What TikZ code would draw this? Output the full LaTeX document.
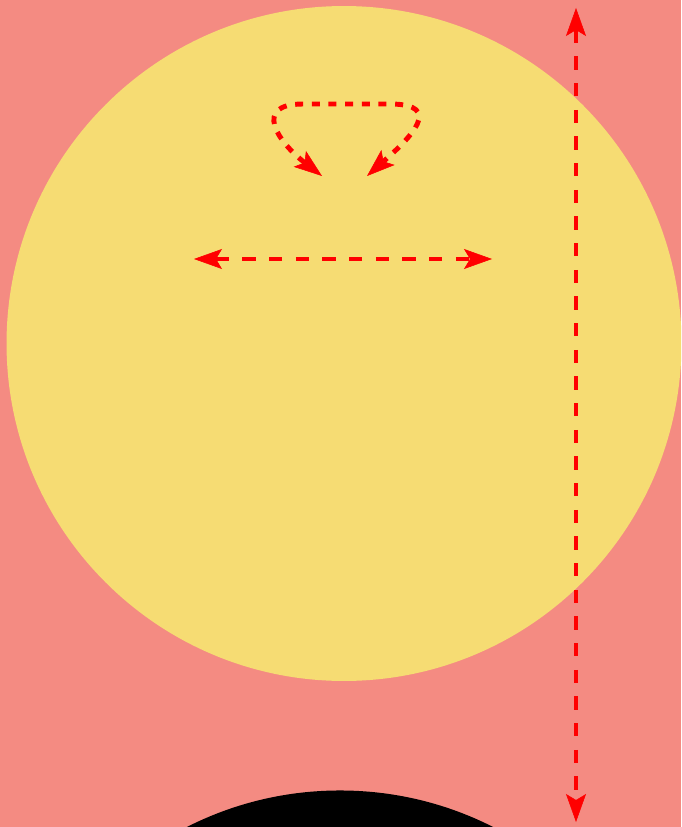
\documentclass[tikz,border=0pt]{standalone}
\usepackage{tikz}
\usetikzlibrary{arrows.meta}
\definecolor{bgsalmon}{RGB}{244,139,130}
\definecolor{sunyellow}{RGB}{246,220,115}
\tikzset{
  tipS/.tip     ={Stealth[length=21pt,width=15pt,inset=4.5pt,line width=0.4pt]},
  dashS/.style  ={red, line width=3.7pt, dash pattern=on 9.8pt off 10.2pt, {tipS}-{tipS}},
  loopS/.style  ={red, line width=3.7pt, dash pattern=on 6pt off 6.5pt, {tipS}-{tipS}},
  bg/.style     ={fill=bgsalmon},
  sun/.style    ={fill=sunyellow},
  shadow/.style ={fill=black},
}

\begin{document}
\begin{tikzpicture}[x=0.75pt,y=-0.75pt]
  \useasboundingbox (0,0) rectangle (681,827);
  \clip (0,0) rectangle (681,827);
  \fill[bg] (0,0) rectangle (681,827);
  \fill[sun] (344,343.5) circle[radius=253.1pt];
  \fill[shadow] (340,1129) circle[radius=253.9pt];
  \coordinate (vTop) at (576,8);   \coordinate (vBot) at (576,822);
  \coordinate (hL) at (194,259);   \coordinate (hR) at (492,259);
  \coordinate (loopL) at (322,176); \coordinate (loopR) at (367,176);
  \draw[dashS] (vTop) -- (vBot);
  \draw[dashS] (hL) -- (hR);
  \draw[loopS] (loopL) .. controls (278,142) and (252,104) .. (303,104) -- (390,104)
               .. controls (445,104) and (410,138) .. (loopR);
\end{tikzpicture}
\end{document}
